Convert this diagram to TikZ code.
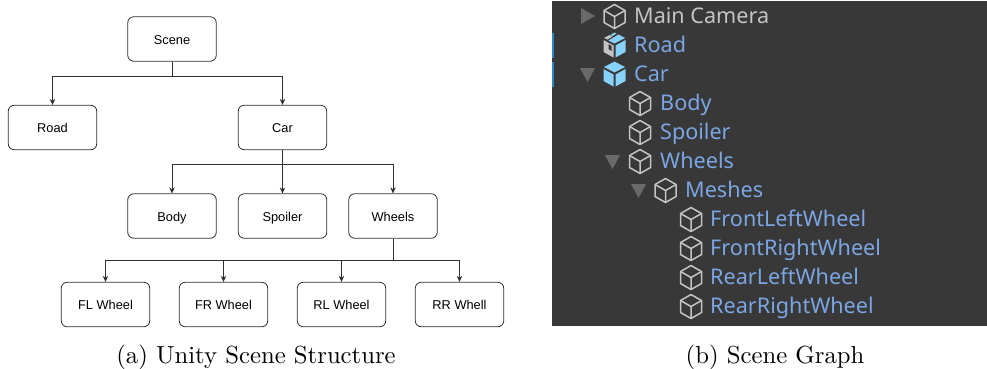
\documentclass[tikz,border=0pt]{standalone}
\usepackage{fontspec}
\newfontfamily\boxfont{Liberation Sans}
\newfontfamily\treefont{Noto Sans}
\font\capfont="[lmroman10-regular.otf]" at 24.7pt
\usetikzlibrary{arrows.meta}
\definecolor{panelbg}{HTML}{383838}
\definecolor{treeblue}{HTML}{7BA6E3}
\definecolor{treegrey}{HTML}{C4C4C4}
\definecolor{arrowgrey}{HTML}{6A6A6A}
\definecolor{cubeblue}{HTML}{86D2FA}
\definecolor{selbar}{HTML}{2E86C4}
\definecolor{linegrey}{HTML}{303030}
\tikzset{
  x=1pt,y=-1pt,
  sbox/.style={draw=linegrey,line width=0.8pt,rounded corners=6pt,minimum width=88.5pt,minimum height=44.5pt,inner sep=0pt,text height=10.5pt,text depth=0pt,font=\boxfont\fontsize{12.8}{14}\selectfont,text=black},
  link/.style={draw=linegrey,line width=0.8pt,-{Stealth[length=6pt,width=5.5pt]}},
  trunk/.style={draw=linegrey,line width=0.8pt},
  tlabel/.style={anchor=base west,inner sep=0pt,font=\treefont\fontsize{21.6}{24}\selectfont,text=treeblue},
  caption/.style={anchor=base,inner sep=0pt,font=\capfont,text=black},
}
\newcommand{\cubeicon}[3][treegrey]{%
  \begin{scope}[shift={(#2,#3)},draw=#1,line width=1.5pt,line join=round]
    \draw (0,-12) -- (10.5,-6) -- (10.5,6) -- (0,12) -- (-10.5,6) -- (-10.5,-6) -- cycle;
    \draw (-10.5,-6) -- (0,0) -- (10.5,-6) (0,0) -- (0,12);
  \end{scope}}
\newcommand{\solidcube}[2]{%
  \begin{scope}[shift={(#1,#2)}]
    \fill[cubeblue] (0,-12.5) -- (10.5,-7) -- (0,-1.5) -- (-10.5,-7) -- cycle;
    \fill[cubeblue] (-11,-5) -- (-1,0.5) -- (-1,12.5) -- (-11,7) -- cycle;
    \fill[cubeblue] (11,-5) -- (1,0.5) -- (1,12.5) -- (11,7) -- cycle;
  \end{scope}}
\begin{document}
\begin{tikzpicture}
\useasboundingbox (0,0) rectangle (987,368);
% left tree
\node[sbox] (scene) at (172,39) {Scene};
\node[sbox] (road) at (52.5,127.5) {Road};
\node[sbox] (car) at (282.5,127.5) {Car};
\node[sbox] (body) at (172,216) {Body};
\node[sbox] (spoiler) at (282.5,216) {Spoiler};
\node[sbox] (wheels) at (393,216) {Wheels};
\node[sbox] (fl) at (105.5,304.5) {FL Wheel};
\node[sbox] (fr) at (223.5,304.5) {FR Wheel};
\node[sbox] (rl) at (341.5,304.5) {RL Wheel};
\node[sbox] (rr) at (459.5,304.5) {RR Whell};
\coordinate (j1) at (172,76);
\coordinate (j2) at (282.5,164);
\coordinate (j3) at (393,260);
\draw[trunk] (scene.south) -- (j1);
\draw[link] (j1) -| (road.north);
\draw[link] (j1) -| (car.north);
\draw[trunk] (car.south) -- (j2);
\draw[link] (j2) -| (body.north);
\draw[link] (j2) -- (spoiler.north);
\draw[link] (j2) -| (wheels.north);
\draw[trunk] (wheels.south) -- (j3);
\draw[link] (j3) -| (fl.north);
\draw[link] (j3) -| (fr.north);
\draw[link] (j3) -| (rl.north);
\draw[link] (j3) -| (rr.north);
% right panel
\fill[panelbg] (552,1) rectangle (987,326);
\fill[selbar] (552,33) rectangle (553.5,58);
\fill[selbar] (552,62) rectangle (553.5,87);
% triangles
\fill[arrowgrey] (581,8) -- (595,16) -- (581,24) -- cycle;
\fill[arrowgrey] (580,68) -- (595,68) -- (587.5,82) -- cycle;
\fill[arrowgrey] (605,155) -- (620,155) -- (612.5,169) -- cycle;
\fill[arrowgrey] (631,184) -- (646,184) -- (638.5,198) -- cycle;
% icons
\cubeicon{614.5}{16.5}
% Road prefab icon
\begin{scope}[shift={(614.5,45)}]
  \fill[treegrey] (-11,-5) -- (-1,0.5) -- (-1,12.5) -- (-11,7) -- cycle;
  \fill[panelbg] (-6,-1) -- (-3,1) -- (-3,6) -- (-6,4) -- cycle;
  \fill[cubeblue] (11,-5) -- (1,0.5) -- (1,12.5) -- (11,7) -- cycle;
  \fill[cubeblue] (-4,-10) -- (0,-12.5) -- (2,-11.5) -- (-2,-9) -- cycle;
  \fill[cubeblue] (4,-10.5) -- (10.5,-7) -- (0,-1.5) -- (-6,-4.5) -- cycle;
  \fill[treegrey] (-10.5,-7) -- (-5,-10) -- (-2,-8.5) -- (-7,-5.5) -- cycle;
\end{scope}
\solidcube{614.5}{74}
\cubeicon{640}{103.5}
\cubeicon{640}{132.5}
\cubeicon{640}{161.5}
\cubeicon{665.5}{190.5}
\cubeicon{691}{219.5}
\cubeicon{691}{248.5}
\cubeicon{691}{277.5}
\cubeicon{691}{306.5}
% labels
\node[tlabel,text=treegrey] (tcam) at (634,23) {Main Camera};
\node[tlabel] (troad) at (634,52) {Road};
\node[tlabel] (tcar) at (634,81) {Car};
\node[tlabel] (tbody) at (660,110) {Body};
\node[tlabel] (tspoiler) at (660,139) {Spoiler};
\node[tlabel] (twheels) at (660,168) {Wheels};
\node[tlabel] (tmeshes) at (685,197) {Meshes};
\node[tlabel] (tfl) at (710,226) {FrontLeftWheel};
\node[tlabel] (tfr) at (710,255) {FrontRightWheel};
\node[tlabel] (trl) at (710,284) {RearLeftWheel};
\node[tlabel] (trr) at (710,313) {RearRightWheel};
% captions
\node[caption] (capa) at (256,363) {(a) Unity Scene Structure};
\node[caption] (capb) at (775,363) {(b) Scene Graph};
\end{tikzpicture}
\end{document}
